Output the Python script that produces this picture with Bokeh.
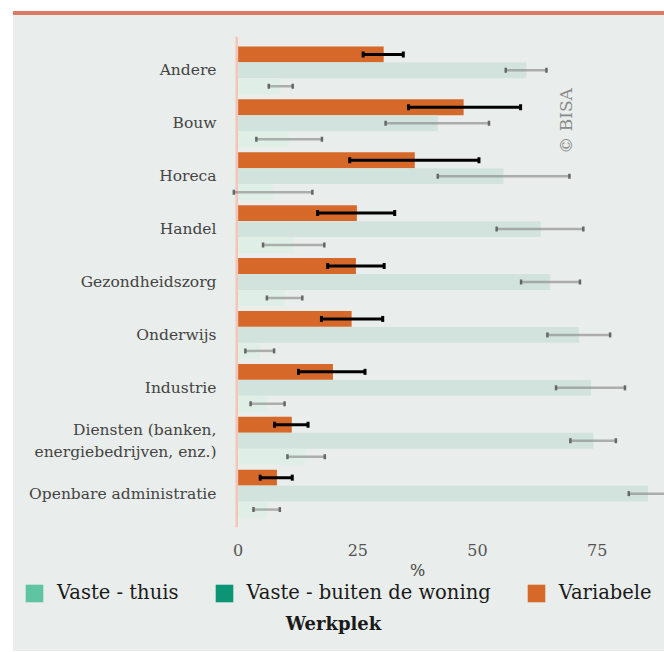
from bokeh.plotting import figure
from bokeh.models import (Range1d, FixedTicker, Whisker, TeeHead, ColumnDataSource,
                          Span, Label, Legend, LegendItem, Div)
from bokeh.layouts import column, row
from bokeh.embed import file_html
from bokeh.resources import INLINE
import math

categories = ["Andere", "Bouw", "Horeca", "Handel", "Gezondheidszorg", "Onderwijs",
              "Industrie", "Diensten (banken,\nenergiebedrijven, enz.)", "Openbare administratie"]

variabele = [30.4, 47.1, 36.9, 24.8, 24.6, 23.7, 19.8, 11.2, 8.1]
variabele_lo = [26.1, 35.6, 23.3, 16.6, 18.7, 17.4, 12.6, 7.6, 4.6]
variabele_hi = [34.5, 59.0, 50.3, 32.7, 30.5, 30.2, 26.5, 14.6, 11.3]

buiten = [60.2, 41.7, 55.4, 63.2, 65.2, 71.2, 73.7, 74.2, 85.6]
buiten_lo = [55.9, 30.8, 41.7, 54.0, 59.1, 64.6, 66.4, 69.4, 81.6]
buiten_hi = [64.4, 52.4, 69.2, 72.1, 71.4, 77.7, 80.8, 78.9, 90.0]

thuis = [8.8, 10.6, 7.2, 11.6, 9.7, 4.5, 6.1, 14.1, 6.0]
thuis_lo = [6.4, 3.8, -0.9, 5.2, 6.0, 1.5, 2.6, 10.3, 3.2]
thuis_hi = [11.4, 17.5, 15.5, 18.0, 13.4, 7.5, 9.7, 18.1, 8.7]

x_ticks = [0, 25, 50, 75]
x_title = "%"
legend_title = "Werkplek"
series_names = ["Vaste - thuis", "Vaste - buiten de woning", "Variabele"]
series_colors = ["#5fc4a2", "#0b9574", "#d6682a"]

FONT = "DejaVu Serif"
PANEL = "#e9edeb"
W = 651

idx = list(range(len(categories)))
off = 0.302
bh = 0.3

p = figure(width=W, height=547, output_backend="svg", toolbar_location=None,
           x_range=Range1d(-1.6, 89.06), y_range=Range1d(8.64, -0.64),
           min_border_left=217, min_border_right=0, min_border_top=21, min_border_bottom=35)
p.background_fill_color = PANEL
p.border_fill_color = PANEL
p.outline_line_color = None
p.xgrid.visible = False
p.ygrid.visible = False

src_v = ColumnDataSource(dict(y=[i - off for i in idx], v=variabele, lo=variabele_lo, hi=variabele_hi))
src_b = ColumnDataSource(dict(y=[i for i in idx], v=buiten, lo=buiten_lo, hi=buiten_hi))
src_t = ColumnDataSource(dict(y=[i + off for i in idx], v=thuis, lo=thuis_lo, hi=thuis_hi))

p.hbar(y="y", left=0, right="v", height=bh, source=src_v, fill_color="#d6682a", line_color=None)
p.hbar(y="y", left=0, right="v", height=bh, source=src_b, fill_color="#d2e2dc", line_color=None)
p.hbar(y="y", left=0, right="v", height=bh, source=src_t, fill_color="#dfefe8", line_color=None)

for src in (src_b, src_t):
    w = Whisker(base="y", lower="lo", upper="hi", dimension="width", source=src,
                level="overlay",
                line_color="#7a7a7a", line_alpha=0.55, line_width=2.5,
                lower_head=TeeHead(size=5, line_color="#666666", line_width=2.5),
                upper_head=TeeHead(size=5, line_color="#666666", line_width=2.5))
    p.add_layout(w)

wv = Whisker(base="y", lower="lo", upper="hi", dimension="width", source=src_v,
             level="overlay", line_color="black", line_width=3,
             lower_head=TeeHead(size=6, line_color="black", line_width=3),
             upper_head=TeeHead(size=6, line_color="black", line_width=3))
p.add_layout(wv)

p.add_layout(Span(location=-0.3, dimension="height", line_color="#f3c6b5", line_width=2.5))

# axes
p.yaxis.ticker = FixedTicker(ticks=idx)
p.yaxis.major_label_overrides = {i: c for i, c in zip(idx, categories)}
p.yaxis.axis_line_color = None
p.yaxis.major_tick_line_color = None
p.yaxis.minor_tick_line_color = None
p.yaxis.major_label_standoff = 8
p.yaxis.major_label_text_font = FONT
p.yaxis.major_label_text_font_size = "15.5px"
p.yaxis.major_label_text_color = "#444444"

p.xaxis.ticker = FixedTicker(ticks=x_ticks)
p.xaxis.axis_line_color = None
p.xaxis.major_tick_line_color = None
p.xaxis.minor_tick_line_color = None
p.xaxis.major_label_standoff = 10
p.xaxis.major_label_text_font = FONT
p.xaxis.major_label_text_font_size = "16px"
p.xaxis.major_label_text_color = "#555555"

p.add_layout(Label(x=68.4, y=0.955, text="© BISA", angle=math.pi / 2, text_font=FONT,
                   text_font_size="17px", text_color="#8a8a8a", text_align="center",
                   text_baseline="middle"))

# legend panel (separate figure below the chart)
LH = 89
q = figure(width=W, height=LH, output_backend="svg", toolbar_location=None,
           x_range=Range1d(0, W), y_range=Range1d(LH, 0),
           min_border=0, min_border_left=0, min_border_right=0,
           min_border_top=0, min_border_bottom=0)
q.axis.visible = False
q.grid.visible = False
q.background_fill_color = PANEL
q.border_fill_color = PANEL
q.outline_line_color = None

q.add_layout(Label(x=404, y=8, text=x_title, text_font=FONT, text_font_size="16px",
                   text_color="#444444", text_align="center", text_baseline="middle"))
q.add_layout(Label(x=320, y=61, text=legend_title, text_font=FONT, text_font_size="18px",
                   text_font_style="bold", text_color="#1a1a1a", text_align="center",
                   text_baseline="middle"))

items = []
for name, col in zip(series_names, series_colors):
    r = q.hbar(y=[float("nan")], right=[float("nan")], left=0, height=1,
               fill_color=col, line_color=None)
    items.append(LegendItem(label=name, renderers=[r]))
leg = Legend(items=items, orientation="horizontal", location=(10, 47),
             glyph_width=22, glyph_height=22, label_standoff=12, spacing=34,
             padding=0, margin=0, border_line_color=None, background_fill_alpha=0,
             label_text_font=FONT, label_text_font_size="19.5px", label_text_color="#1a1a1a")
q.add_layout(leg, "center")

top_line = Div(text="", width=W, height=4, margin=(11, 0, 0, 13),
               styles={"background-color": "#dd7a62"})
panel = column(p, row(q), spacing=0, margin=(0, 0, 0, 13),
               styles={"background-color": PANEL})
layout = column(top_line, panel, spacing=0)

open("out.html", "w").write(file_html(layout, INLINE))
